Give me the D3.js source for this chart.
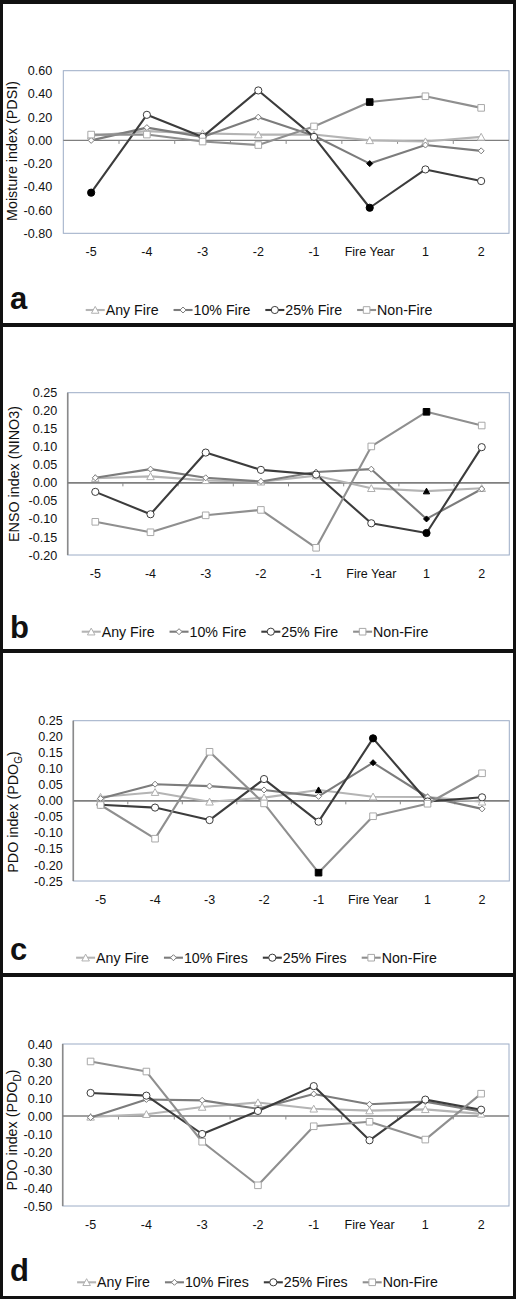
<!DOCTYPE html>
<html>
<head>
<meta charset="utf-8">
<script src="https://cdn.jsdelivr.net/npm/d3@7"></script>
<style>
html,body{margin:0;padding:0;background:#111;}
svg{display:block;}
text{font-family:"Liberation Sans",Arial,sans-serif;fill:#111;}
</style>
</head>
<body>
<svg id="chart" width="516" height="1299"></svg>
<script>
// ---------- data ----------
const categories = ["-5","-4","-3","-2","-1","Fire Year","1","2"];
const seriesNamesAB = ["Any Fire","10% Fire","25% Fire","Non-Fire"];
const seriesNamesCD = ["Any Fire","10% Fires","25% Fires","Non-Fire"];

// a: Moisture index (PDSI)
const pdsiAny  = [0.04, 0.08, 0.06, 0.05, 0.05, 0.00, -0.01, 0.03];
const pdsi10   = [0.00, 0.11, 0.03, 0.20, 0.04, -0.20, -0.04, -0.09];
const pdsi25   = [-0.45, 0.22, 0.03, 0.43, 0.03, -0.58, -0.25, -0.35];
const pdsiNon  = [0.05, 0.05, -0.01, -0.04, 0.12, 0.33, 0.38, 0.28];
const pdsiTicks = [0.6, 0.4, 0.2, 0.0, -0.2, -0.4, -0.6, -0.8];

// b: ENSO index (NINO3)
const ensoAny = [0.013, 0.018, 0.007, 0.003, 0.020, -0.015, -0.023, -0.015];
const enso10  = [0.014, 0.038, 0.014, 0.004, 0.030, 0.038, -0.100, -0.017];
const enso25  = [-0.025, -0.087, 0.084, 0.036, 0.023, -0.112, -0.139, 0.099];
const ensoNon = [-0.108, -0.137, -0.090, -0.075, -0.180, 0.101, 0.197, 0.159];
const ensoTicks = [0.25, 0.20, 0.15, 0.10, 0.05, 0.00, -0.05, -0.10, -0.15, -0.20];

// c: PDO index (PDO_G)
const pdoGAny = [0.012, 0.027, -0.003, 0.010, 0.034, 0.013, 0.012, -0.003];
const pdoG10  = [0.007, 0.052, 0.046, 0.034, 0.014, 0.119, 0.012, -0.025];
const pdoG25  = [-0.012, -0.021, -0.060, 0.068, -0.065, 0.195, -0.002, 0.011];
const pdoGNon = [-0.013, -0.118, 0.153, -0.008, -0.224, -0.048, -0.009, 0.086];
const pdoGTicks = [0.25, 0.20, 0.15, 0.10, 0.05, 0.00, -0.05, -0.10, -0.15, -0.20, -0.25];

// d: PDO index (PDO_D)
const pdoDAny = [-0.005, 0.010, 0.050, 0.075, 0.040, 0.030, 0.037, 0.012];
const pdoD10  = [-0.008, 0.092, 0.087, 0.040, 0.122, 0.065, 0.080, 0.025];
const pdoD25  = [0.128, 0.113, -0.100, 0.028, 0.166, -0.135, 0.091, 0.035];
const pdoDNon = [0.303, 0.247, -0.143, -0.385, -0.057, -0.032, -0.131, 0.124];
const pdoDTicks = [0.40, 0.30, 0.20, 0.10, 0.00, -0.10, -0.20, -0.30, -0.40, -0.50];

// significant (filled black) points: index lists per series [any, 10%, 25%, non]
const sigA = [[], [5], [0, 5], [5]];
const sigB = [[6], [6], [6], [6]];
const sigC = [[4], [5], [5], [4]];
const sigD = [[], [], [], []];

// ---------- styles ----------
const styles = [
  {line:"#b4b4b4", mstroke:"#b0b0b0", shape:"triangle"},
  {line:"#7c7c7c", mstroke:"#7c7c7c", shape:"diamond"},
  {line:"#3c3c3c", mstroke:"#3c3c3c", shape:"circle"},
  {line:"#8f8f8f", mstroke:"#a8a8a8", shape:"square"}
];

const fmt = d3.formatLocale({decimal:".", thousands:",", grouping:[3], currency:["",""], minus:"-"}).format(".2f");

const svg = d3.select("#chart");

function markerPath(shape, filled) {
  const p = d3.path();
  if (shape === "triangle") {
    const h = filled ? 3.0 : 3.6;
    p.moveTo(0, -h); p.lineTo(h*1.05, h*0.9); p.lineTo(-h*1.05, h*0.9); p.closePath();
  } else if (shape === "diamond") {
    const s = 3.0;
    p.moveTo(0, -s); p.lineTo(s, 0); p.lineTo(0, s); p.lineTo(-s, 0); p.closePath();
  } else if (shape === "circle") {
    p.arc(0, 0, 3.6, 0, 2*Math.PI);
  } else {
    const s = 3.3;
    p.rect(-s, -s, 2*s, 2*s);
  }
  return p.toString();
}

function drawMarker(g, shape, x, y, filled, style) {
  g.append("path")
    .attr("d", markerPath(shape, filled))
    .attr("transform", `translate(${x},${y})`)
    .attr("fill", filled ? "#000" : "#fff")
    .attr("stroke", filled ? "#000" : style.mstroke)
    .attr("stroke-width", 1);
}

function drawPanel(cfg) {
  const g = svg.append("g");
  g.append("rect").attr("x", cfg.px0).attr("y", cfg.py0)
    .attr("width", cfg.px1 - cfg.px0).attr("height", cfg.py1 - cfg.py0).attr("fill", "#fff");

  const x = d3.scaleBand().domain(categories).range([cfg.left, cfg.right]);
  const y = d3.scaleLinear().domain([cfg.ticks[cfg.ticks.length-1], cfg.ticks[0]]).range([cfg.bottom, cfg.top]);
  const cx = c => x(c) + x.bandwidth()/2;

  g.append("rect").attr("x", cfg.left).attr("y", cfg.top)
    .attr("width", cfg.right - cfg.left).attr("height", cfg.bottom - cfg.top)
    .attr("fill", "none").attr("stroke", "#9cacc6").attr("stroke-width", 1);
  if (cfg.grayLeft) {
    g.append("line").attr("x1", cfg.left).attr("x2", cfg.left).attr("y1", cfg.top).attr("y2", cfg.bottom)
      .attr("stroke", "#8a8a8a").attr("stroke-width", 1.6);
  }

  const yAxis = d3.axisLeft(y).tickValues(cfg.ticks).tickFormat(fmt).tickSize(0).tickPadding(cfg.tickPad);
  const ya = g.append("g").attr("transform", `translate(${cfg.left},0)`).call(yAxis);
  ya.select(".domain").remove();
  ya.selectAll("text").attr("font-size", 12.6).attr("font-family", "Liberation Sans, Arial, sans-serif").attr("fill", "#111");

  const xAxis = d3.axisBottom(x).tickSize(0).tickPadding(0);
  const xa = g.append("g").attr("transform", `translate(0,${cfg.xLabelY})`).call(xAxis);
  xa.select(".domain").remove();
  xa.selectAll("text").attr("font-size", 12.5).attr("dy", "0").attr("y", 0)
    .attr("font-family", "Liberation Sans, Arial, sans-serif").attr("fill", "#111");

  const y0 = y(0);
  g.append("line").attr("x1", cfg.left).attr("x2", cfg.right).attr("y1", y0).attr("y2", y0)
    .attr("stroke", "#7f7f7f").attr("stroke-width", cfg.zeroW);
  categories.slice(1).forEach(c => {
    g.append("line").attr("x1", x(c)).attr("x2", x(c)).attr("y1", y0).attr("y2", y0 + 3.5)
      .attr("stroke", "#8a8a8a").attr("stroke-width", 1);
  });

  const line = d3.line().x((d, i) => cx(categories[i])).y(d => y(d));
  cfg.series.forEach((vals, si) => {
    g.append("path").datum(vals).attr("d", line)
      .attr("fill", "none").attr("stroke", styles[si].line).attr("stroke-width", 2.1)
      .attr("stroke-linejoin", "round");
  });
  cfg.series.forEach((vals, si) => {
    vals.forEach((v, i) => {
      drawMarker(g, styles[si].shape, cx(categories[i]), y(v), cfg.sig[si].includes(i), styles[si]);
    });
  });

  const t = g.append("text")
    .attr("transform", `translate(${cfg.titleX},${cfg.titleY}) rotate(-90)`)
    .attr("text-anchor", "middle").attr("font-size", 14.3);
  t.append("tspan").text(cfg.title);
  if (cfg.titleSub) {
    t.append("tspan").attr("font-size", 10).attr("dy", 4).text(cfg.titleSub);
    t.append("tspan").attr("dy", -4).text(")");
  }

  g.append("text").attr("x", 10).attr("y", cfg.letterY).attr("font-size", 31)
    .attr("font-weight", "bold").text(cfg.letter);

  const lg = g.append("g");
  const sampleW = 19, gapTxt = 1, gapEntry = 15;
  const entries = [];
  let xpos = 0;
  cfg.names.forEach((name, si) => {
    const e = lg.append("g");
    e.append("line").attr("x1", 0).attr("x2", sampleW).attr("y1", 0).attr("y2", 0)
      .attr("stroke", styles[si].line).attr("stroke-width", 2.1);
    drawMarker(e, styles[si].shape, sampleW/2, 0, false, styles[si]);
    const tx = e.append("text").attr("x", sampleW + gapTxt).attr("y", 5).attr("font-size", 14.2).text(name);
    const w = sampleW + gapTxt + tx.node().getComputedTextLength();
    entries.push({e, x: xpos});
    xpos += w + gapEntry;
  });
  const total = xpos - gapEntry;
  const start = cfg.legendCx - total/2;
  entries.forEach(en => en.e.attr("transform", `translate(${start + en.x},${cfg.legendY})`));
}

const panels = [
  {letter:"a", px0:3, px1:513, py0:4, py1:323, left:63.3, right:509, top:70.7, bottom:233.3,
   ticks:pdsiTicks, series:[pdsiAny, pdsi10, pdsi25, pdsiNon], sig:sigA, names:seriesNamesAB,
   title:"Moisture index (PDSI)", titleX:17, titleY:151, xLabelY:255.5, tickPad:11, zeroW:1.2, grayLeft:false,
   letterY:309, legendY:310, legendCx:259},
  {letter:"b", px0:3, px1:513, py0:327, py1:649, left:67.7, right:509.3, top:392.7, bottom:555,
   ticks:ensoTicks, series:[ensoAny, enso10, enso25, ensoNon], sig:sigB, names:seriesNamesAB,
   title:"ENSO index (NINO3)", titleX:19, titleY:474, xLabelY:578, tickPad:10.5, zeroW:1.6, grayLeft:true,
   letterY:638, legendY:631.7, legendCx:255},
  {letter:"c", px0:3, px1:513, py0:653, py1:973, left:73.3, right:509.3, top:720.7, bottom:881,
   ticks:pdoGTicks, series:[pdoGAny, pdoG10, pdoG25, pdoGNon], sig:sigC, names:seriesNamesCD,
   title:"PDO index (PDO", titleSub:"G", titleX:17.5, titleY:812, xLabelY:904, tickPad:10.6, zeroW:1.6, grayLeft:true,
   letterY:960, legendY:957.7, legendCx:256.5},
  {letter:"d", px0:3, px1:513, py0:977, py1:1296, left:62.7, right:509, top:1044, bottom:1206,
   ticks:pdoDTicks, series:[pdoDAny, pdoD10, pdoD25, pdoDNon], sig:sigD, names:seriesNamesCD,
   title:"PDO index (PDO", titleSub:"D", titleX:17, titleY:1130, xLabelY:1229, tickPad:10.4, zeroW:1.6, grayLeft:true,
   letterY:1281, legendY:1282.3, legendCx:257.5}
];

panels.forEach(drawPanel);
</script>
</body>
</html>
